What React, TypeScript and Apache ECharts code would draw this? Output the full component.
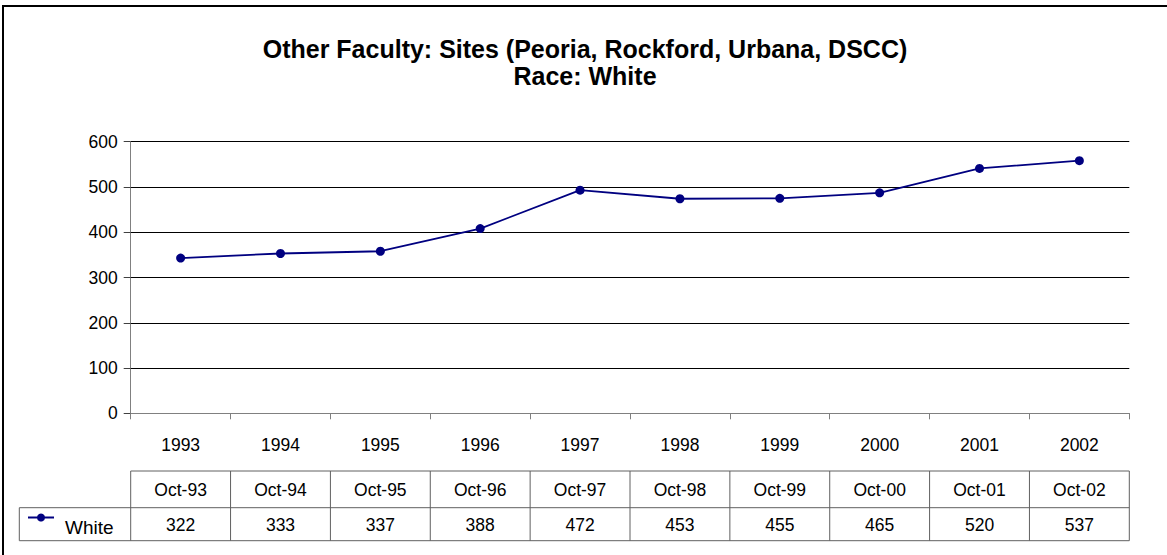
import React, { useEffect, useRef } from "react";
import * as echarts from "echarts";

const titleLines = ["Other Faculty: Sites (Peoria, Rockford, Urbana, DSCC)", "Race: White"];
const years = ["1993", "1994", "1995", "1996", "1997", "1998", "1999", "2000", "2001", "2002"];
const tableDates = ["Oct-93", "Oct-94", "Oct-95", "Oct-96", "Oct-97", "Oct-98", "Oct-99", "Oct-00", "Oct-01", "Oct-02"];
const tableValues = [322, 333, 337, 388, 472, 453, 455, 465, 520, 537];
// positions of the plotted markers
const plottedValues = [343, 353, 358, 408, 493, 474, 475, 487, 541, 558];
const seriesName = "White";
const yMin = 0;
const yMax = 600;
const yInterval = 100;

const FONT = "'Liberation Sans', Arial, sans-serif";

export default function App() {
  const ref = useRef<HTMLDivElement>(null);
  useEffect(() => {
    if (!ref.current) return;
    const chart = echarts.init(ref.current, null, { renderer: "svg" });
    const L = 130.7, R = 1129.3, T = 141.7, B = 413.3;
    const W = 1167, H = 555;
    const cw = (R - L) / years.length;
    const y1 = 471, y2 = 507.7, y3 = 540.7, x0 = 19.3;
    const tableColor = "#606060";
    const g: any[] = [];
    g.push({ type: "rect", shape: { x: 3, y: 6, width: 1175, height: 570 }, style: { fill: "none", stroke: "#000", lineWidth: 2 }, silent: true });
    const hl = (ya: number, xa: number, xb: number) =>
      g.push({ type: "line", shape: { x1: xa, y1: ya, x2: xb, y2: ya }, style: { stroke: tableColor, lineWidth: 1 }, silent: true });
    const vl = (xa: number, ya: number, yb: number) =>
      g.push({ type: "line", shape: { x1: xa, y1: ya, x2: xa, y2: yb }, style: { stroke: tableColor, lineWidth: 1 }, silent: true });
    hl(y1, L, R);
    hl(y2, x0, R);
    hl(y3, x0, R);
    vl(x0, y2, y3);
    for (let i = 0; i <= years.length; i++) vl(L + i * cw, y1, y3);
    tableDates.forEach((d, i) => {
      g.push({ type: "text", x: L + (i + 0.5) * cw, y: (y1 + y2) / 2 + 1, style: { text: d, fill: "#000", font: `17.5px ${FONT}`, align: "center", verticalAlign: "middle" }, silent: true });
    });
    tableValues.forEach((v, i) => {
      g.push({ type: "text", x: L + (i + 0.5) * cw, y: (y2 + y3) / 2 + 1, style: { text: String(v), fill: "#000", font: `17.5px ${FONT}`, align: "center", verticalAlign: "middle" }, silent: true });
    });
    g.push({ type: "line", shape: { x1: 28, y1: 517.5, x2: 54, y2: 517.5 }, style: { stroke: "#000080", lineWidth: 2 }, silent: true });
    g.push({ type: "circle", shape: { cx: 41, cy: 517.5, r: 4 }, style: { fill: "#000080" }, silent: true });
    g.push({ type: "text", x: 65, y: 527, style: { text: seriesName, fill: "#000", font: `19px ${FONT}`, align: "left", verticalAlign: "middle" }, silent: true });

    chart.setOption({
      animation: false,
      backgroundColor: "#fff",
      title: {
        text: titleLines.join("\n"),
        left: 585,
        top: 35,
        padding: 0,
        textAlign: "center",
        textStyle: { fontFamily: FONT, fontWeight: "bold", fontSize: 25, lineHeight: 27, color: "#000" },
      },
      grid: { left: L, right: W - R, top: T, bottom: H - B, containLabel: false },
      xAxis: {
        type: "category",
        data: years,
        boundaryGap: true,
        axisLine: { lineStyle: { color: "#808080", width: 1 } },
        axisTick: { show: true, length: 6, lineStyle: { color: "#808080" } },
        axisLabel: { fontFamily: FONT, fontSize: 17.5, color: "#000", margin: 23 },
        splitLine: { show: false },
      },
      yAxis: {
        type: "value",
        min: yMin,
        max: yMax,
        interval: yInterval,
        axisLine: { show: true, lineStyle: { color: "#808080", width: 1 } },
        axisTick: { show: true, length: 7, lineStyle: { color: "#404040" } },
        axisLabel: { fontFamily: FONT, fontSize: 17.5, color: "#000", margin: 13 },
        splitLine: { show: true, lineStyle: { color: "#000", width: 1 } },
      },
      series: [
        {
          name: seriesName,
          type: "line",
          data: plottedValues,
          symbol: "circle",
          symbolSize: 9,
          itemStyle: { color: "#000080" },
          lineStyle: { color: "#000080", width: 1.8 },
        },
      ],
      graphic: g,
    });
    return () => chart.dispose();
  }, []);
  return <div ref={ref} style={{ position: "fixed", left: 0, top: 0, width: 1167, height: 555, background: "#fff" }} />;
}
